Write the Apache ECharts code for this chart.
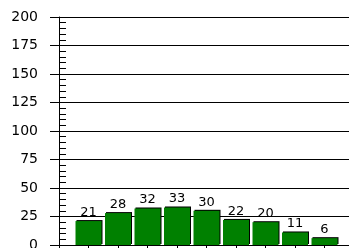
<!DOCTYPE html>
<html>
<head>
<meta charset="utf-8">
<script src="https://cdn.jsdelivr.net/npm/echarts@6/dist/echarts.min.js"></script>
<style>
  html, body { margin: 0; padding: 0; background: #fff; }
  #chart { width: 349px; height: 248px; }
</style>
</head>
<body>
<div id="chart"></div>
<script>
const positions = [1, 2, 3, 4, 5, 6, 7, 8, 9]
const values = [21, 28, 32, 33, 30, 22, 20, 11, 6]
const yTicks = [0, 25, 50, 75, 100, 125, 150, 175, 200]

const chart = echarts.init(document.getElementById('chart'))
const font = 'DejaVu Sans, Liberation Sans, Arial, sans-serif'

const option = {
  animation: false,
  grid: { left: 59, right: -5, top: 17, bottom: 3, outerBoundsMode: 'none', containLabel: false },
  xAxis: {
    type: 'value',
    min: 0,
    max: 10,
    interval: 1,
    axisLine: { show: true, lineStyle: { color: '#000', width: 1 } },
    axisTick: { show: true, length: 5, lineStyle: { color: '#000' } },
    axisLabel: { show: false },
    splitLine: { show: false }
  },
  yAxis: [
    {
      type: 'value',
      min: yTicks[0],
      max: yTicks[yTicks.length - 1],
      interval: 25,
      axisLine: { show: true, lineStyle: { color: '#000', width: 1 } },
      axisTick: { show: true, length: 9, lineStyle: { color: '#000' } },
      axisLabel: { color: '#000', fontSize: 14, fontFamily: font, margin: 21 },
      splitLine: { show: true, lineStyle: { color: '#000', width: 1 } }
    },
    {
      // inner minor ticks
      type: 'value',
      position: 'left',
      min: yTicks[0],
      max: yTicks[yTicks.length - 1],
      interval: 25,
      axisLine: { show: false },
      axisTick: { show: true, inside: true, length: 7, lineStyle: { color: '#000' } },
      minorTick: { show: true, splitNumber: 5, length: 7, lineStyle: { color: '#000' } },
      axisLabel: { show: false },
      splitLine: { show: false }
    }
  ],
  series: [
    {
      type: 'bar',
      data: positions.map((x, i) => [x, values[i]]),
      barWidth: 26,
      itemStyle: {
        color: '#008000',
        shadowColor: '#000',
        shadowBlur: 0,
        shadowOffsetX: 1,
        shadowOffsetY: -1
      },
      label: {
        show: true,
        position: 'top',
        distance: 2,
        color: '#000',
        fontSize: 13,
        fontFamily: font
      }
    }
  ]
}
option && chart.setOption(option)
</script>
</body>
</html>
